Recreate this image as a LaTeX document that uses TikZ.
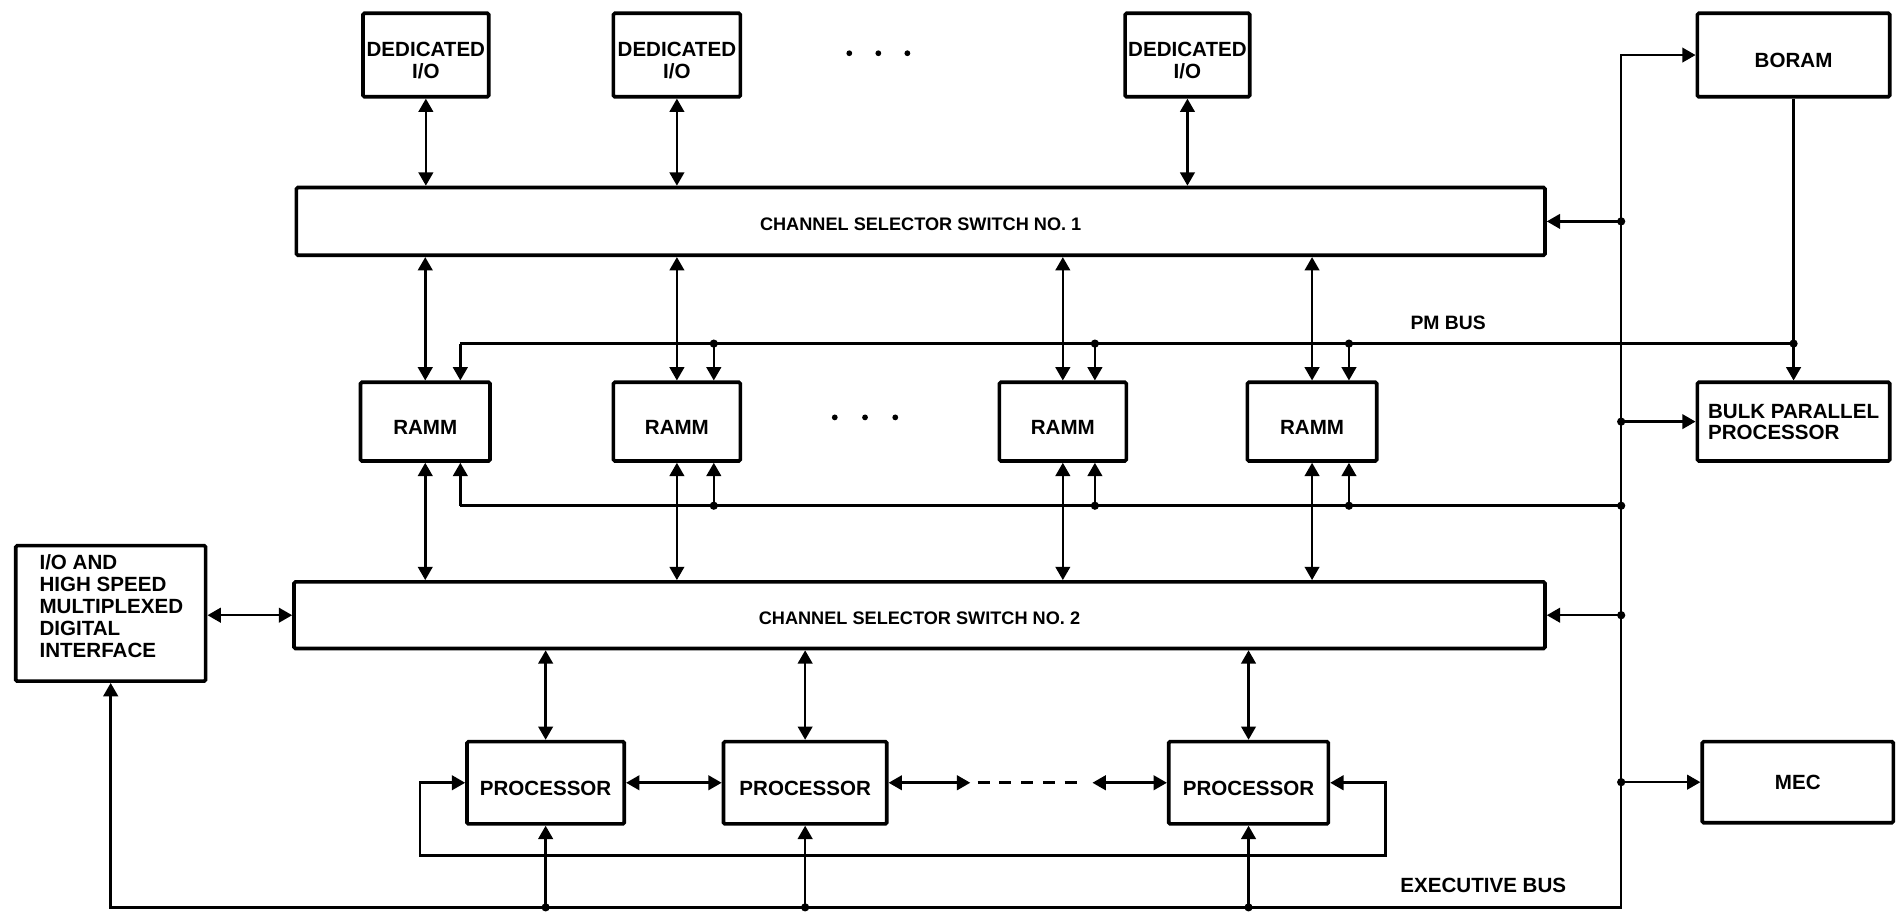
\documentclass[tikz,border=0pt]{standalone}
\usepackage{fontspec}
\setmainfont{Liberation Sans}
\usetikzlibrary{arrows.meta}
% invisible strut that sets capital-only labels a little below the box centre
\newcommand\lowstrut[1]{\rule{0pt}{#1}}
\tikzset{
  blk/.style={draw, line width=3pt, rounded corners=1.2pt, inner sep=0pt, align=center,
    font=\bfseries\fontsize{17}{17.5}\selectfont},
  lowtext/.style={execute at begin node=\lowstrut{#1}},
  lowtext/.default=21pt,
  lbl/.style={inner sep=0pt, font=\bfseries\fontsize{17}{18}\selectfont},
  wire/.style={line width=2.1pt},
  tip/.tip={Triangle[length=11pt,width=12pt]},
  arr/.style={wire, -tip},
  darr/.style={wire, tip-tip},
  dashwire/.style={wire, dash pattern=on 10pt off 8pt},
}
\newcommand\jdot[1]{\fill #1 circle (3.4pt);}
\begin{document}
\begin{tikzpicture}[x=1pt,y=-1pt]
\useasboundingbox (0,0) rectangle (1568,758);

% dedicated I/O units
\node[blk, minimum width=104pt, minimum height=69pt] (d1) at (352,45.5) {\lowstrut{21pt}DEDICATED\\I/O};
\node[blk, minimum width=105pt, minimum height=69pt] (d2) at (559.5,45.5) {\lowstrut{21pt}DEDICATED\\I/O};
\node[blk, minimum width=103pt, minimum height=69pt] (d3) at (981.5,45.5) {\lowstrut{21pt}DEDICATED\\I/O};
\foreach \x in {702,726,750} {\fill (\x,44) circle (2.4pt);}

% channel selector switches
\node[blk, lowtext=15.7pt, minimum width=1032pt, minimum height=56pt,
  font=\bfseries\fontsize{15}{16}\selectfont] (css1) at (761,183) {CHANNEL SELECTOR SWITCH NO. 1};
\node[blk, lowtext=14.7pt, minimum width=1034pt, minimum height=55pt,
  font=\bfseries\fontsize{15}{16}\selectfont] (css2) at (760,508.5) {CHANNEL SELECTOR SWITCH NO. 2};

% memory modules
\node[blk, lowtext=22pt, minimum width=107pt, minimum height=65pt] (r1) at (351.5,348.5) {RAMM};
\node[blk, lowtext=22pt, minimum width=105pt, minimum height=65pt] (r2) at (559.5,348.5) {RAMM};
\node[blk, lowtext=22pt, minimum width=105pt, minimum height=65pt] (r3) at (878.5,348.5) {RAMM};
\node[blk, lowtext=22pt, minimum width=107pt, minimum height=65pt] (r4) at (1084.5,348.5) {RAMM};
\foreach \x in {690,715,740} {\fill (\x,345) circle (2.4pt);}

% right-hand units
\node[blk, lowtext, minimum width=159pt, minimum height=69pt] (boram) at (1482.5,45.5) {BORAM};
\node[blk, minimum width=159pt, minimum height=65pt, align=left] (bpp) at (1482.5,348.5) {BULK PARALLEL\\PROCESSOR};
\node[blk, minimum width=158pt, minimum height=67pt] (mec) at (1486,646.5) {MEC};

% interface unit
\node[blk, minimum width=157pt, minimum height=112pt] (io) at (91.5,507) {};
\node[lbl, anchor=west, align=left] (iotext) at ([xshift=21pt,yshift=6pt]io.west)
  {I/O AND\\HIGH SPEED\\MULTIPLEXED\\DIGITAL\\INTERFACE};

% processors
\node[blk, lowtext=22pt, minimum width=130pt, minimum height=68pt] (p1) at (451,647) {PROCESSOR};
\node[blk, lowtext=22pt, minimum width=135pt, minimum height=68pt] (p2) at (665.5,647) {PROCESSOR};
\node[blk, lowtext=22pt, minimum width=132pt, minimum height=68pt] (p3) at (1032,647) {PROCESSOR};

% bus labels
\node[lbl, font=\bfseries\fontsize{16}{17}\selectfont] (pmbus) at (1197,267) {PM BUS};
\node[lbl] (exbus) at (1226,732) {EXECUTIVE BUS};

% bus reference lines
\coordinate (pm) at (0,284);
\coordinate (lb) at (0,418);
\coordinate (eb) at (0,750);
\coordinate (rb) at (1340,0);
\coordinate (lpL) at (347,707);
\coordinate (lpR) at (1145,707);
\coordinate (dl) at (802,0);
\coordinate (dr) at (903,0);

% taps of the PM bus and the lower bus on each RAMM
\coordinate (t1) at ([xshift=29pt]r1.north);
\coordinate (t2) at ([xshift=30.5pt]r2.north);
\coordinate (t3) at ([xshift=26.5pt]r3.north);
\coordinate (t4) at ([xshift=30.5pt]r4.north);
\coordinate (b1) at ([xshift=29pt]r1.south);
\coordinate (b2) at ([xshift=30.5pt]r2.south);
\coordinate (b3) at ([xshift=26.5pt]r3.south);
\coordinate (b4) at ([xshift=30.5pt]r4.south);

% dedicated I/O to switch 1
\foreach \n in {d1,d2,d3} {\draw[darr] (\n.south) -- (\n.south |- css1.north);}

% switch 1 to RAMMs, RAMMs to switch 2
\foreach \n in {r1,r2,r3,r4} {
  \draw[darr] (\n.north |- css1.south) -- (\n.north);
  \draw[darr] (\n.south) -- (\n.south |- css2.north);
}

% PM bus
\draw[wire] (t1 |- pm) -- (boram.south |- pm);
\draw[wire] (boram.south) -- (boram.south |- pm);
\draw[arr] (boram.south |- pm) -- (bpp.north);
\foreach \q in {t1,t2,t3,t4} {\draw[arr] (\q |- pm) -- (\q);}
\foreach \q in {t2,t3,t4} {\jdot{(\q |- pm)}}
\jdot{(boram.south |- pm)}

% lower RAMM bus
\draw[wire] (b1 |- lb) -- (rb |- lb);
\foreach \q in {b1,b2,b3,b4} {\draw[arr] (\q |- lb) -- (\q);}
\foreach \q in {b2,b3,b4} {\jdot{(\q |- lb)}}
\jdot{(rb |- lb)}

% executive bus and right-hand trunk
\draw[darr] (io.south) -- (io.south |- eb) -- (rb |- eb) -- (rb |- boram.west) -- (boram.west);
\draw[arr] (rb |- css1.east) -- (css1.east);
\draw[arr] (rb |- bpp.west) -- (bpp.west);
\draw[arr] (rb |- css2.east) -- (css2.east);
\draw[arr] (rb |- mec.west) -- (mec.west);
\jdot{(rb |- css1.east)}
\jdot{(rb |- bpp.west)}
\jdot{(rb |- css2.east)}
\jdot{(rb |- mec.west)}

% interface to switch 2
\draw[darr] (io.east |- css2.west) -- (css2.west);

% switch 2 to processors, executive bus to processors
\foreach \n in {p1,p2,p3} {
  \draw[darr] (\n.north |- css2.south) -- (\n.north);
  \draw[arr] (\n.south |- eb) -- (\n.south);
  \jdot{(\n.south |- eb)}
}

% processor chain
\draw[darr] (p1.east) -- (p2.west);
\draw[darr] (p2.east) -- (dl |- p2.east);
\draw[dashwire] ([xshift=6pt]dl |- p2.east) -- ([xshift=-8pt]dr |- p3.west);
\draw[darr] (dr |- p3.west) -- (p3.west);

% loop round the processors
\draw[darr] (p1.west) -- (lpL |- p1.west) -- (lpL) -- (lpR) -- (lpR |- p3.east) -- (p3.east);
\end{tikzpicture}
\end{document}
